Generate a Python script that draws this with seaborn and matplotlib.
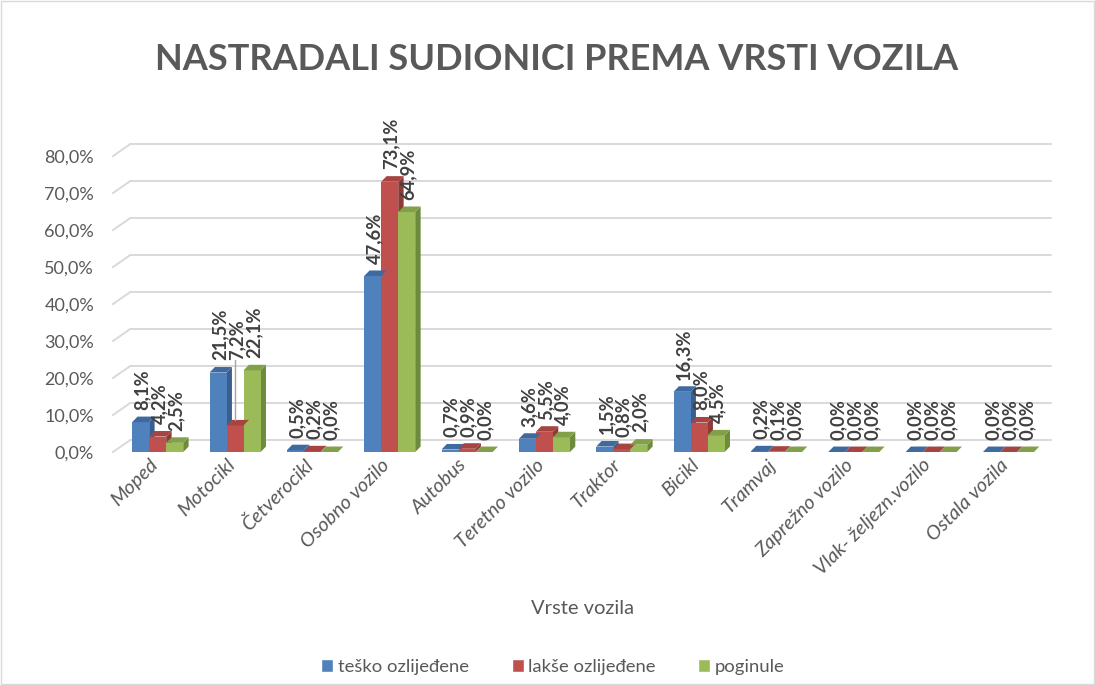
import pandas as pd
import matplotlib.pyplot as plt
import matplotlib.transforms as mtransforms
import seaborn as sns
from matplotlib.patches import Polygon, Rectangle

# categories and series (percent)
categories = ["Moped", "Motocikl", "Četverocikl", "Osobno vozilo", "Autobus",
              "Teretno vozilo", "Traktor", "Bicikl", "Tramvaj", "Zaprežno vozilo",
              "Vlak- željezn.vozilo", "Ostala vozila"]
tesko = [8.1, 21.5, 0.5, 47.6, 0.7, 3.6, 1.5, 16.3, 0.2, 0.0, 0.0, 0.0]
lakse = [4.2, 7.2, 0.2, 73.1, 0.9, 5.5, 0.8, 8.0, 0.1, 0.0, 0.0, 0.0]
poginule = [2.5, 22.1, 0.0, 64.9, 0.0, 4.0, 2.0, 4.5, 0.0, 0.0, 0.0, 0.0]
series = ["teško ozlijeđene", "lakše ozlijeđene", "poginule"]
yticks = [0, 10, 20, 30, 40, 50, 60, 70, 80]

colors = ["#4F81BD", "#C0504D", "#9BBB59"]
side_colors = ["#385F8F", "#8F3A38", "#6E8A3C"]
top_colors = ["#3E6AA0", "#A64441", "#82A04A"]
text_col = "#595959"

df = pd.DataFrame({
    "kategorija": categories * 3,
    "serija": [s for s in series for _ in categories],
    "vrijednost": tesko + lakse + poginule,
})

sns.set_style("white")
plt.rcParams['font.family'] = ['Lato', 'DejaVu Sans']

fig = plt.figure(figsize=(10.95, 6.85), dpi=100)
ax = fig.add_axes([0.1087, 0.340, 0.8475, 0.432])

sns.barplot(data=df, x="kategorija", y="vrijednost", hue="serija",
            palette=colors, width=0.66, ax=ax, legend=False, zorder=3,
            linewidth=0, saturation=1)

n = len(categories)
ax.set_ylim(0, 80)
ax.set_xlim(-0.5, n - 0.5)
ax.set_yticks(yticks)
ax.set_yticklabels([f"{v:.1f}%".replace(".", ",") for v in yticks],
                   fontsize=13, color=text_col)
ax.tick_params(axis="y", length=0, pad=18)
ax.tick_params(axis="x", length=0, pad=3)
for s in ax.spines.values():
    s.set_visible(False)

# 3D-like gridlines (back wall + floor edge)
gd = 3.2
for v in yticks:
    ax.plot([-0.36, n - 0.45], [v + gd, v + gd], color="#D9D9D9",
            lw=1.4, zorder=1, clip_on=False)
    ax.plot([-0.58, -0.36], [v, v + gd], color="#D9D9D9", lw=1.4,
            zorder=1, clip_on=False)

ax.set_xticks(range(n))
ax.set_xticklabels(categories, rotation=45, ha="right", rotation_mode="anchor",
                   fontsize=14.3, fontstyle="italic", color=text_col)
shift = mtransforms.ScaledTranslation(-9 / 100, 0, fig.dpi_scale_trans)
for lbl in ax.get_xticklabels():
    lbl.set_transform(lbl.get_transform() + shift)
ax.set_xlabel("")
ax.set_ylabel("")
fig.text(0.532, 1 - 608 / 685, "Vrste vozila", fontsize=14.5, color=text_col,
         ha="center", va="center")

dx, dy = 0.07, 1.5
vals = [tesko, lakse, poginule]
for k, cont in enumerate(ax.containers):
    for i, bar in enumerate(cont.patches):
        x0 = bar.get_x()
        w = bar.get_width()
        h = bar.get_height()
        side = Polygon([(x0 + w, 0), (x0 + w + dx, dy), (x0 + w + dx, h + dy), (x0 + w, h)],
                       closed=True, facecolor=side_colors[k], edgecolor="none", zorder=2.9)
        top = Polygon([(x0, h), (x0 + dx, h + dy), (x0 + w + dx, h + dy), (x0 + w, h)],
                      closed=True, facecolor=top_colors[k], edgecolor="none", zorder=3.1)
        ax.add_patch(side)
        ax.add_patch(top)
        # data label
        v = vals[k][i]
        ly = v
        if k == 1 and tesko[i] > v + 5 and poginule[i] > v + 5:
            ly = min(tesko[i], poginule[i])
            ax.plot([x0 + w / 2, x0 + w / 2], [v + dy, ly + 3.5], color="#A6A6A6",
                    lw=1, zorder=4)
        ax.text(x0 + w / 2 + 0.02, ly + 3.3, f"{v:.1f}%".replace(".", ","),
                rotation=90, ha="center", va="bottom", fontsize=13.2,
                fontweight="bold", color="#404040", zorder=5)

fig.text(0.508, 1 - 70 / 685, "NASTRADALI SUDIONICI PREMA VRSTI VOZILA",
         fontsize=26, fontweight="bold", color=text_col, ha="center", va="baseline")

handles = [Rectangle((0, 0), 1, 1, facecolor=c) for c in colors]
fig.legend(handles, series, loc="center", bbox_to_anchor=(0.505, 1 - 667 / 685),
           ncol=3, frameon=False, fontsize=13.3, handlelength=0.65, handleheight=0.65,
           columnspacing=2.3, handletextpad=0.25, labelcolor=text_col)

fig.patches.append(Rectangle((0.001, 0.001), 0.998, 0.998, transform=fig.transFigure,
                             fill=False, edgecolor="#D9D9D9", lw=1))

fig.savefig("out.png", dpi=100)
